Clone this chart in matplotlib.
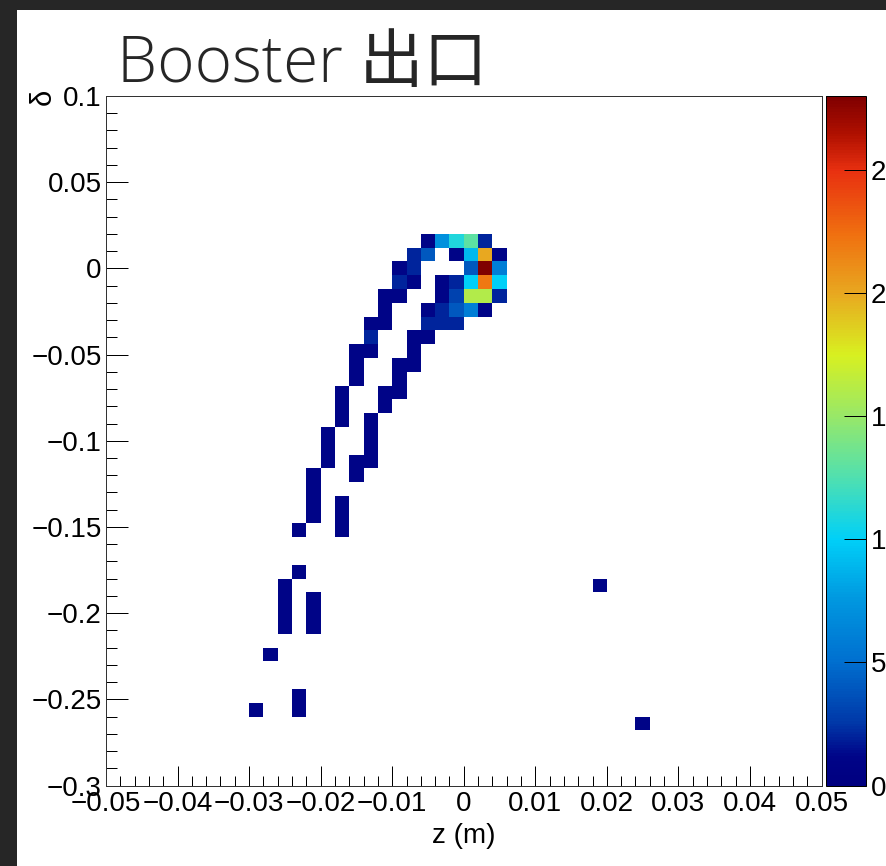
import numpy as np
import matplotlib
matplotlib.use("Agg")
import matplotlib.pyplot as plt
from matplotlib.colors import LinearSegmentedColormap
from matplotlib.patches import Rectangle
from matplotlib.ticker import MultipleLocator, FixedLocator, FuncFormatter

# ---- data: occupied bins (bin centres) and their counts ----
z_centers = [
    -0.005, -0.003, -0.001, 0.001, 0.003,                       # delta = 0.016
    -0.007, -0.005, -0.001, 0.001, 0.003, 0.005,                # 0.008
    -0.009, -0.007, 0.001, 0.003, 0.005,                        # 0.000
    -0.009, -0.007, -0.003, -0.001, 0.001, 0.003, 0.005,        # -0.008
    -0.011, -0.009, -0.003, -0.001, 0.001, 0.003, 0.005,        # -0.016
    -0.011, -0.005, -0.003, -0.001, 0.001, 0.003,               # -0.024
    -0.013, -0.011, -0.005, -0.003, -0.001,                     # -0.032
    -0.013, -0.007, -0.005,                                     # -0.040
    -0.015, -0.013, -0.007,                                     # -0.048
    -0.015, -0.009, -0.007,                                     # -0.056
    -0.015, -0.009,                                             # -0.064
    -0.017, -0.011, -0.009,                                     # -0.072
    -0.017, -0.011,                                             # -0.080
    -0.017, -0.013,                                             # -0.088
    -0.019, -0.013,                                             # -0.096
    -0.019, -0.013,                                             # -0.104
    -0.019, -0.015, -0.013,                                     # -0.112
    -0.021, -0.015,                                             # -0.120
    -0.021,                                                     # -0.128
    -0.021, -0.017,                                             # -0.136
    -0.021, -0.017,                                             # -0.144
    -0.023, -0.017,                                             # -0.152
    -0.023,                                                     # -0.176
    -0.025, 0.019,                                              # -0.184
    -0.025, -0.021,                                             # -0.192
    -0.025, -0.021,                                             # -0.200
    -0.025, -0.021,                                             # -0.208
    -0.027,                                                     # -0.224
    -0.023,                                                     # -0.248
    -0.029, -0.023,                                             # -0.256
    0.025,                                                      # -0.264
]
delta_centers = (
    [0.016] * 5 + [0.008] * 6 + [0.000] * 5 + [-0.008] * 7 + [-0.016] * 7 +
    [-0.024] * 6 + [-0.032] * 5 + [-0.040] * 3 + [-0.048] * 3 + [-0.056] * 3 +
    [-0.064] * 2 + [-0.072] * 3 + [-0.080] * 2 + [-0.088] * 2 + [-0.096] * 2 +
    [-0.104] * 2 + [-0.112] * 3 + [-0.120] * 2 + [-0.128] * 1 + [-0.136] * 2 +
    [-0.144] * 2 + [-0.152] * 2 + [-0.176] * 1 + [-0.184] * 2 + [-0.192] * 2 +
    [-0.200] * 2 + [-0.208] * 2 + [-0.224] * 1 + [-0.248] * 1 + [-0.256] * 2 +
    [-0.264] * 1
)
counts = [
    1, 7, 11, 13, 2,
    2, 4, 1, 9, 20, 1,
    1, 2, 4, 28, 6,
    2, 1, 1, 2, 10, 22, 10,
    1, 1, 1, 3, 16, 16, 2,
    1, 1, 2, 4, 6, 1,
    1, 1, 2, 2, 2,
    2, 1, 1,
    1, 1, 1,
    1, 1, 1,
    1, 1,
    1, 1, 1,
    1, 1,
    1, 1,
    1, 1,
    1, 1,
    1, 1, 1,
    1, 1,
    1,
    1, 1,
    1, 1,
    1, 1,
    1,
    1, 1,
    1, 1,
    1, 1,
    1, 1,
    1,
    1,
    1, 1,
    1,
]

x_ticks = [-0.05, -0.04, -0.03, -0.02, -0.01, 0, 0.01, 0.02, 0.03, 0.04, 0.05]
y_ticks = [0.1, 0.05, 0, -0.05, -0.1, -0.15, -0.2, -0.25, -0.3]
cbar_ticks = [0, 5, 10, 15, 20, 25]
z_max = 28

# ---- style ----
W, H, DPI = 887, 866, 100
PX = 72.0 / DPI
fig = plt.figure(figsize=(W / DPI, H / DPI), dpi=DPI, facecolor="#262626")
fig.patches.append(Rectangle((17 / W, 0), 1 - 17 / W, 1 - 10 / H,
                             transform=fig.transFigure, facecolor="white",
                             edgecolor="none", zorder=-10))

stops = [0.0, 0.04, 0.09, 0.18, 0.27, 0.357, 0.446, 0.536, 0.625, 0.714,
         0.80, 0.893, 0.946, 1.0]
cols = ['#000080', '#000488', '#0038a8', '#0070d0', '#0098e0', '#00d0f8',
        '#50e0b0', '#98e868', '#d8f020', '#e8a820', '#f07010', '#e83010',
        '#b01000', '#800000']
cmap = LinearSegmentedColormap.from_list("rootlike", list(zip(stops, cols)))

tick_font = "Liberation Sans"
fs = 20

ax = fig.add_axes([106 / W, 1 - 785.5 / H, 715.5 / W, 689.5 / H])
xedges = np.linspace(-0.05, 0.05, 51)
yedges = np.linspace(-0.3, 0.1, 51)
h = ax.hist2d(z_centers, delta_centers, bins=[xedges, yedges], weights=counts,
              cmap=cmap, vmin=0, vmax=z_max, cmin=0.5)
ax.set_xlim(-0.05, 0.05)
ax.set_ylim(-0.3, 0.1)

def fmt(v, pos=None):
    s = "%g" % round(v, 6)
    if s == "-0":
        s = "0"
    return s.replace("-", "\u2212")

ax.xaxis.set_major_locator(FixedLocator(x_ticks))
ax.xaxis.set_minor_locator(MultipleLocator(0.002))
ax.yaxis.set_major_locator(FixedLocator(y_ticks))
ax.yaxis.set_minor_locator(MultipleLocator(0.01))
ax.xaxis.set_major_formatter(FuncFormatter(fmt))
ax.yaxis.set_major_formatter(FuncFormatter(fmt))
ax.tick_params(axis="x", which="major", direction="in", length=20 * PX,
               width=1 * PX, pad=4, labelsize=fs, top=False)
ax.tick_params(axis="x", which="minor", direction="in", length=10 * PX,
               width=1 * PX, top=False)
ax.tick_params(axis="y", which="major", direction="in", length=22 * PX,
               width=1 * PX, pad=3, labelsize=fs, right=False)
ax.tick_params(axis="y", which="minor", direction="in", length=11 * PX,
               width=1 * PX, right=False)
for lab in ax.get_xticklabels() + ax.get_yticklabels():
    lab.set_fontfamily(tick_font)
for sp in ax.spines.values():
    sp.set_linewidth(1 * PX)
    sp.set_color("#333333")

ax.set_xlabel("z (m)", fontsize=fs, fontfamily=tick_font, labelpad=4)
fig.text(43 / W, 1 - 97 / H, "\u03b4", rotation=90, ha="center", va="center",
         fontsize=21, fontfamily=tick_font)

cax = fig.add_axes([826 / W, 1 - 785.5 / H, 40.5 / W, 689.5 / H])
cb = fig.colorbar(h[3], cax=cax, ticks=cbar_ticks)
cb.outline.set_linewidth(1 * PX)
cax.tick_params(direction="in", length=22 * PX, width=1 * PX, pad=3,
                labelsize=fs, right=True, left=False)
cax.minorticks_off()
for lab in cax.get_yticklabels():
    lab.set_fontfamily(tick_font)

fig.text(117 / W, 1 - 82 / H, "Booster \u51fa\u53e3", fontsize=46,
         family=["Open Sans", "Noto Sans CJK SC"], fontweight="light",
         color="#262626", va="baseline", ha="left")

fig.savefig("out.png", dpi=DPI, facecolor=fig.get_facecolor())
